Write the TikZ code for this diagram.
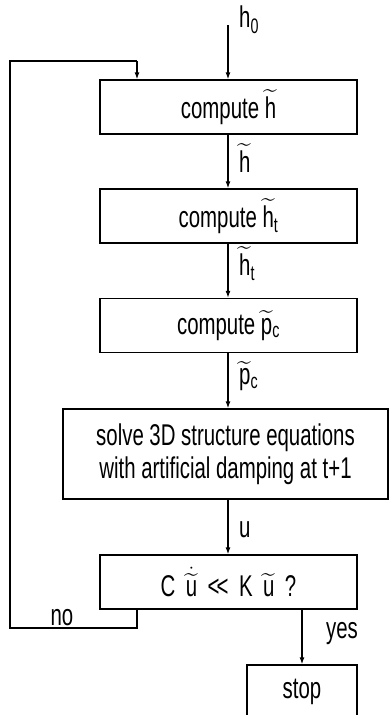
\documentclass[tikz,border=0pt]{standalone}
\usepackage{amsmath}
\usepackage{fontspec}
\setmainfont{Liberation Sans}[FakeStretch=0.68]
\usetikzlibrary{arrows.meta}
\newcommand{\tld}[1]{\ensuremath{\widetilde{\text{#1}}}}
\tikzset{
  x=1pt, y=1pt,
  every node/.style={font=\fontsize{30}{34}\selectfont, inner sep=0pt},
  proc/.style={draw, line width=1.3pt, minimum width=257pt, minimum height=54pt, align=center},
  flow/.style={line width=1.3pt, -{Latex[length=7pt,width=5pt]}},
  link/.style={line width=1.3pt},
  lbl/.style={anchor=west},
}
\begin{document}
\begin{tikzpicture}
  \clip (0,0) rectangle (389,-715);
  \useasboundingbox (0,0) rectangle (389,-715);

  % process boxes
  \node[proc] (hb) at (228.5,-107) {compute \tld{h}};
  \node[proc] (ht) at (228.5,-216) {compute \tld{h}\ensuremath{_{\text{t}}}};
  \node[proc] (pc) at (228.5,-325.5) {compute \tld{p}\ensuremath{_{\text{c}}}};
  \node[proc, minimum width=325pt, minimum height=90pt, font=\fontsize{30}{33}\selectfont]
    (solve) at (225.5,-454) {solve 3D structure equations\\with artificial damping at t+1};
  \node[proc] (test) at (228.5,-582)
    {C\hspace{0.35em}\ensuremath{\dot{\widetilde{\text{u}}}}\hspace{0.35em}<\kern-0.1em<\hspace{0.35em}K\hspace{0.35em}\tld{u}\hspace{0.35em}?};
  \node[proc, minimum width=110pt] (stop) at (302,-692) {stop};

  % entry point and loop corners
  \coordinate (start) at (228,-25);
  \coordinate (nodn) at (137,-628);
  \coordinate (nolt) at (10,-628);
  \coordinate (uplt) at (10,-61);
  \coordinate (uprt) at (137,-61);

  % main flow
  \draw[flow] (start) -- (start |- hb.north);
  \draw[flow] (hb.south -| start) -- (ht.north -| start);
  \draw[flow] (ht.south -| start) -- (pc.north -| start);
  \draw[flow] (pc.south -| start) -- (solve.north -| start);
  \draw[flow] (solve.south -| start) -- (test.north -| start);
  \draw[flow] (test.south -| stop) -- (stop.north);

  % feedback loop
  \draw[link] (test.south -| nodn) -- (nodn) -- (nolt) -- (uplt) -- (uprt);
  \draw[flow] (uprt) -- (hb.north -| uprt);

  % signal labels
  \node[lbl] (h0) at (239,-20) {h\ensuremath{_{\text{0}}}};
  \node[lbl] (lhb) at (239,-158) {\tld{h}};
  \node[lbl] (lht) at (239,-264) {\tld{h}\ensuremath{_{\text{t}}}};
  \node[lbl] (lpc) at (239,-376) {\tld{p}\ensuremath{_{\text{c}}}};
  \node[lbl] (lu) at (239,-530) {u};
  \node[lbl] (lyes) at (326,-634) {yes};
  \node (lno) at (62,-618) {no};
\end{tikzpicture}
\end{document}
